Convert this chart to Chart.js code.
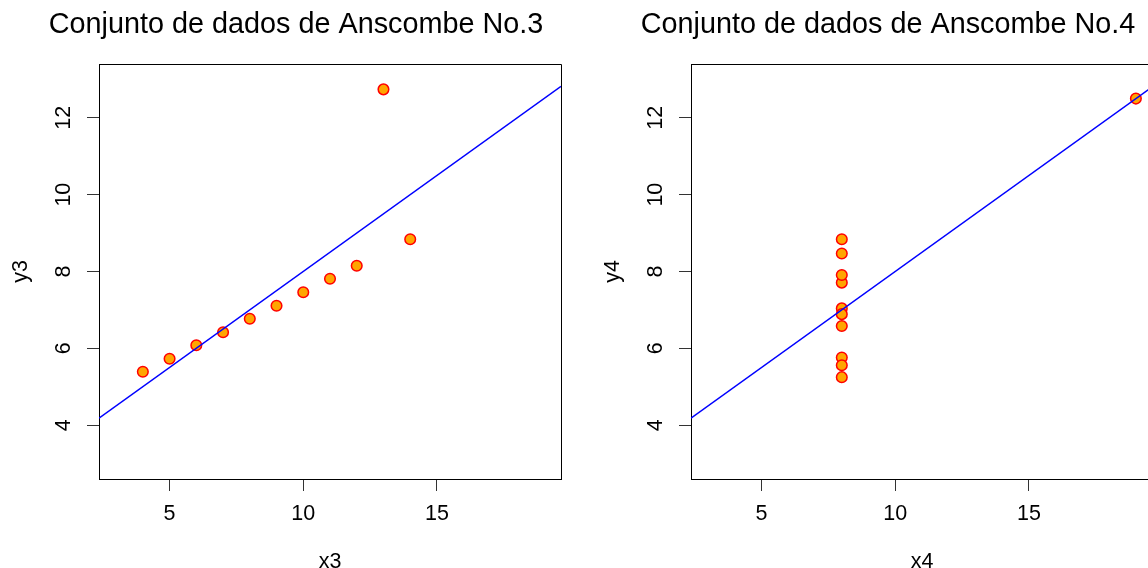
<!DOCTYPE html>
<html>
<head>
<meta charset="utf-8">
<script src="https://cdn.jsdelivr.net/npm/chart.js@4/dist/chart.umd.min.js"></script>
<style>
html, body { margin: 0; padding: 0; background: #fff; overflow: hidden; }
#wrap { position: relative; width: 1148px; height: 568px; overflow: hidden; }
.panel { position: absolute; top: 0; width: 592px; height: 568px; }
</style>
</head>
<body>
<div id="wrap">
    <div class="panel" style="left:0"><canvas id="c3" width="592" height="568"></canvas></div>
    <div class="panel" style="left:592px"><canvas id="c4" width="592" height="568"></canvas></div>
</div>
<script>
// Anscombe data sets 3 and 4
var x3 = [10, 8, 13, 9, 11, 14, 6, 4, 12, 7, 5]
var y3 = [7.46, 6.77, 12.74, 7.11, 7.81, 8.84, 6.08, 5.39, 8.15, 6.42, 5.73]
var x4 = [8, 8, 8, 8, 8, 8, 8, 19, 8, 8, 8]
var y4 = [6.58, 5.76, 7.71, 8.84, 8.47, 7.04, 5.25, 12.50, 5.56, 7.91, 6.89]

var xTicks = [5, 10, 15]
var yTicks = [4, 6, 8, 10, 12]

// R style limits (xlim / ylim plus 4% extension)
var xLim = [3, 19]
var yLim = [3, 13]

const FONT = "'Liberation Sans', Arial, Helvetica, sans-serif"

function extend(lim) {
    var d = (lim[1] - lim[0]) * 0.04
    return [lim[0] - d, lim[1] + d]
}

// least squares fit, like lm()
function fitLine(xs, ys) {
    var n = xs.length
    var mx = xs.reduce((a, b) => a + b, 0) / n
    var my = ys.reduce((a, b) => a + b, 0) / n
    var sxy = 0, sxx = 0
    for (let i = 0; i < n; i++) {
        sxy += (xs[i] - mx) * (ys[i] - my)
        sxx += (xs[i] - mx) * (xs[i] - mx)
    }
    var b = sxy / sxx
    return { a: my - b * mx, b: b }
}

// draws the top and right side of the plot box
var boxPlugin = {
    id: "box",
    beforeDatasetsDraw(chart) {
        const a = chart.chartArea
        const ctx = chart.ctx
        ctx.save()
        ctx.strokeStyle = "#000"
        ctx.lineWidth = 1
        ctx.beginPath()
        ctx.moveTo(a.left + 0.5, a.top + 0.5)
        ctx.lineTo(a.right + 0.5, a.top + 0.5)
        ctx.lineTo(a.right + 0.5, a.bottom + 0.5)
        ctx.stroke()
        ctx.restore()
    }
}

function makeChart(id, xs, ys, title, xLabel, yLabel) {
    var xr = extend(xLim)
    var yr = extend(yLim)
    var fit = fitLine(xs, ys)
    var points = xs.map((x, i) => ({ x: x, y: ys[i] }))
    var line = xr.map(x => ({ x: x, y: fit.a + fit.b * x }))

    return new Chart(document.getElementById(id), {
        type: "scatter",
        data: {
            datasets: [
                {
                    type: "line", data: line, xAxisID: "x", yAxisID: "y",
                    borderColor: "#0000ff", borderWidth: 1.4, pointRadius: 0, fill: false, tension: 0
                },
                {
                    data: points, xAxisID: "x", yAxisID: "y",
                    backgroundColor: "#ffa500", borderColor: "#ff0000", borderWidth: 1.5, pointRadius: 5.3
                }
            ]
        },
        options: {
            responsive: false,
            animation: false,
            events: [],
            layout: { padding: 0 },
            plugins: {
                legend: { display: false },
                tooltip: { enabled: false },
                title: {
                    display: true, text: title, color: "#000",
                    font: { family: FONT, size: 28.8, weight: "normal" },
                    padding: { top: 8, bottom: 21.44 }
                }
            },
            scales: {
                x: {
                    type: "linear", position: "bottom", min: xr[0], max: xr[1],
                    afterBuildTicks: s => { s.ticks = xTicks.map(v => ({ value: v })) },
                    afterFit: s => { s.height = 89 },
                    grid: { drawOnChartArea: false, drawTicks: true, tickLength: 12, color: "#333", lineWidth: 1 },
                    border: { display: true, color: "#000", width: 1 },
                    ticks: { color: "#000", font: { family: FONT, size: 21.5 }, padding: 10, maxRotation: 0, minRotation: 0, autoSkip: false },
                    title: { display: true, text: xLabel, color: "#000", font: { family: FONT, size: 21.5 }, padding: { top: 0, bottom: -7 } }
                },
                y: {
                    type: "linear", position: "left", min: yr[0], max: yr[1],
                    afterBuildTicks: s => { s.ticks = yTicks.map(v => ({ value: v })) },
                    afterFit: s => { s.width = 99 },
                    grid: { drawOnChartArea: false, drawTicks: true, tickLength: 12, color: "#333", lineWidth: 1 },
                    border: { display: true, color: "#000", width: 1 },
                    ticks: { color: "#000", font: { family: FONT, size: 21.5 }, padding: 10.5, minRotation: 90, maxRotation: 90, crossAlign: "center", autoSkip: false },
                    title: { display: true, text: yLabel, color: "#000", font: { family: FONT, size: 21.5 }, padding: { top: 8, bottom: 0 } }
                },
                // empty axis only to keep the right margin
                yr: {
                    type: "linear", position: "right", display: true,
                    afterFit: s => { s.width = 31 },
                    grid: { display: false },
                    border: { display: false },
                    ticks: { display: false }
                }
            }
        },
        plugins: [boxPlugin]
    })
}

makeChart("c3", x3, y3, "Conjunto de dados de Anscombe No.3", "x3", "y3")
makeChart("c4", x4, y4, "Conjunto de dados de Anscombe No.4", "x4", "y4")
</script>
</body>
</html>
